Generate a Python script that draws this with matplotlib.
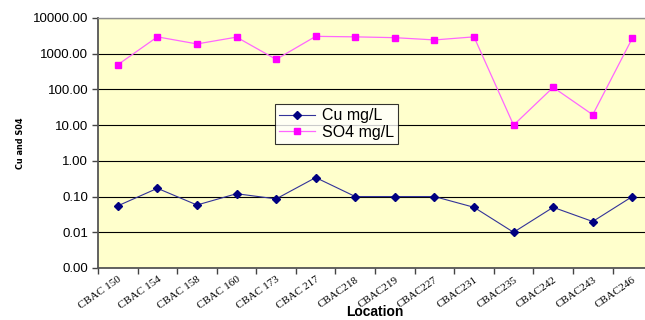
import numpy as np
import matplotlib.pyplot as plt
from matplotlib.ticker import FixedLocator, FuncFormatter

# sample locations and measured concentrations
locations = ["CBAC 150", "CBAC 154", "CBAC 158", "CBAC 160", "CBAC 173", "CBAC 217",
             "CBAC218", "CBAC219", "CBAC227", "CBAC231", "CBAC235", "CBAC242",
             "CBAC243", "CBAC246"]
cu = [0.055, 0.17, 0.058, 0.12, 0.086, 0.34, 0.10, 0.10, 0.10, 0.05, 0.01, 0.05, 0.02, 0.10]
so4 = [490, 2950, 1870, 2900, 690, 3050, 2950, 2800, 2420, 2950, 10, 114, 19.5, 2700]
y_ticks = [0.001, 0.01, 0.1, 1, 10, 100, 1000, 10000]

x = np.arange(len(locations))

fig = plt.figure(figsize=(6.45, 3.2), dpi=100)
ax = fig.add_axes([0.152, 0.1625, 0.859, 0.7815])
ax.set_facecolor("#FFFFCC")

ax.plot(x, cu, color="#333399", lw=0.8, marker="D", ms=4.5,
        mfc="#000080", mec="#000080", label="Cu mg/L")
ax.plot(x, so4, color="#FF66FF", lw=0.9, marker="s", ms=5,
        mfc="#FF00FF", mec="#FF00FF", label="SO4 mg/L")

ax.set_yscale("log")
ax.set_ylim(0.001, 10000)
ax.yaxis.set_major_locator(FixedLocator(y_ticks))
ax.yaxis.set_minor_locator(FixedLocator([]))
ax.yaxis.set_major_formatter(FuncFormatter(lambda v, p: f"{v:.2f}"))
ax.grid(axis="y", color="black", lw=0.8)
ax.set_axisbelow(True)

ax.set_xlim(-0.5, len(locations) - 0.5)
ax.set_xticks(x)
ax.set_xticklabels(locations, rotation=35, ha="right", rotation_mode="anchor",
                   family="Liberation Serif", fontsize=8)
ax.set_xticks(np.arange(len(locations) + 1) - 0.5, minor=True)
ax.tick_params(axis="x", which="major", length=0, pad=5)
ax.tick_params(axis="x", which="minor", length=4, width=1, color="#444444")
ax.tick_params(axis="y", length=4, width=1, color="#444444", labelsize=9.5, pad=3)
for lbl in ax.get_yticklabels():
    lbl.set_family("Liberation Sans")

for side in ["left", "bottom"]:
    ax.spines[side].set_color("#555555")
    ax.spines[side].set_linewidth(1.3)
ax.spines["top"].set_color("#909090")
ax.spines["top"].set_linewidth(1)
ax.spines["right"].set_visible(False)

ax.set_ylabel("Cu and S04", family="DejaVu Sans", fontstretch="condensed",
              fontweight="bold", fontsize=6.5, labelpad=6)
# axis title sits under the rotated labels, kept inside the figure
fig.text(0.581, 0.004, "Location", family="Liberation Sans", fontweight="bold",
         fontsize=10, ha="center", va="bottom")

leg = ax.legend(loc="upper left", bbox_to_anchor=(0.3045, 0.687), frameon=True,
                fancybox=False, shadow=False, prop={"family": "Liberation Sans", "size": 11.5},
                handlelength=2.3, handletextpad=0.4, borderpad=0.25, labelspacing=0.1)
leg.get_frame().set_edgecolor("black")
leg.get_frame().set_linewidth(0.8)
leg.get_frame().set_facecolor("white")

fig.savefig("out.png", dpi=100)
